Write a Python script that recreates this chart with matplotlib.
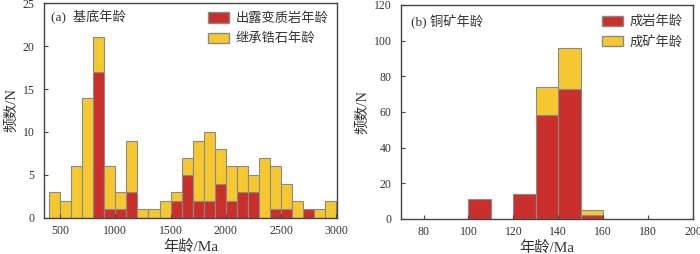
import numpy as np
import matplotlib
matplotlib.use('Agg')
from matplotlib import pyplot as plt
from matplotlib.patches import Patch

plt.rcParams['font.family'] = ['Liberation Serif', 'Noto Sans CJK SC', 'DejaVu Sans']

# (a) basement ages, bins of 100 Ma from 400 to 3000
edges_a = np.arange(400, 3001, 100)
total_a = [3, 2, 6, 14, 21, 6, 3, 9, 1, 1, 2, 3, 7, 9, 10, 8, 6, 6, 5, 7, 6, 4, 2, 1, 1, 2]
meta_a = [0, 0, 0, 0, 17, 1, 1, 3, 0, 0, 0, 2, 5, 2, 2, 4, 2, 3, 3, 0, 1, 1, 0, 1, 0, 0]
inher_a = [t - m for t, m in zip(total_a, meta_a)]

# (b) copper ore ages, bins of 10 Ma
edges_b = np.arange(70, 201, 10)
rock_b = [0, 0, 0, 11, 0, 14, 58, 73, 2, 0, 0, 0, 0]
ore_b = [0, 0, 0, 0, 0, 0, 16, 23, 3, 0, 0, 0, 0]

red = '#c9302c'
yellow = '#f5c832'
edge = '#8a8a8a'
txt = '#333333'

fig = plt.figure(figsize=(7, 2.54), dpi=100)
ax1 = fig.add_axes([0.063, 0.142, 0.419, 0.846])
ax2 = fig.add_axes([0.573, 0.138, 0.417, 0.843])

def stacked(ax, edges, low, high):
    left = edges[:-1]
    w = np.diff(edges)
    low = np.array(low)
    high = np.array(high)
    m = low > 0
    ax.bar(left[m], low[m], width=w[m], align='edge', color=red, edgecolor=edge, linewidth=0.8)
    m2 = high > 0
    ax.bar(left[m2], high[m2], width=w[m2], bottom=low[m2], align='edge',
           color=yellow, edgecolor=edge, linewidth=0.8)

stacked(ax1, edges_a, meta_a, inher_a)
stacked(ax2, edges_b, rock_b, ore_b)

ax1.set_xlim(355, 3010)
ax1.set_ylim(0, 25)
ax1.set_xticks(np.arange(500, 3001, 500))
ax1.set_yticks(np.arange(0, 26, 5))
ax2.set_xlim(70, 200)
ax2.set_ylim(0, 120)
ax2.set_xticks(np.arange(80, 201, 20))
ax2.set_yticks(np.arange(0, 121, 20))

for ax in (ax1, ax2):
    for s in ax.spines.values():
        s.set_color('#444444')
        s.set_linewidth(1.0)
    ax.tick_params(direction='in', length=3, color='#444444', labelsize=8.5,
                   labelcolor=txt)
    ax.tick_params(axis='y', pad=7)
    ax.tick_params(axis='x', pad=5)
    ax.set_xlabel('年龄/Ma', fontsize=11, color=txt, labelpad=2)
    ax.set_ylabel('频数/N', fontsize=10.5, color=txt, labelpad=3)

ax1.text(0.025, 0.97, '(a)  基底年龄', transform=ax1.transAxes, fontsize=9.5,
         color=txt, va='top', ha='left')
ax2.text(0.035, 0.955, '(b) 铜矿年龄', transform=ax2.transAxes, fontsize=9.5,
         color=txt, va='top', ha='left')

h1 = [Patch(facecolor=red, edgecolor=edge), Patch(facecolor=yellow, edgecolor=edge)]
ax1.legend(h1, ['出露变质岩年龄', '继承锆石年龄'], loc='upper right', frameon=False,
           fontsize=9.5, labelcolor=txt, handlelength=1.6, handleheight=0.8,
           handletextpad=0.5, labelspacing=0.55, borderaxespad=0.3)
ax2.legend(h1, ['成岩年龄', '成矿年龄'], loc='upper right', frameon=False,
           fontsize=9.5, labelcolor=txt, handlelength=1.6, handleheight=0.8,
           handletextpad=0.5, labelspacing=0.55, borderaxespad=0.4)

fig.savefig('out.png', dpi=100)
